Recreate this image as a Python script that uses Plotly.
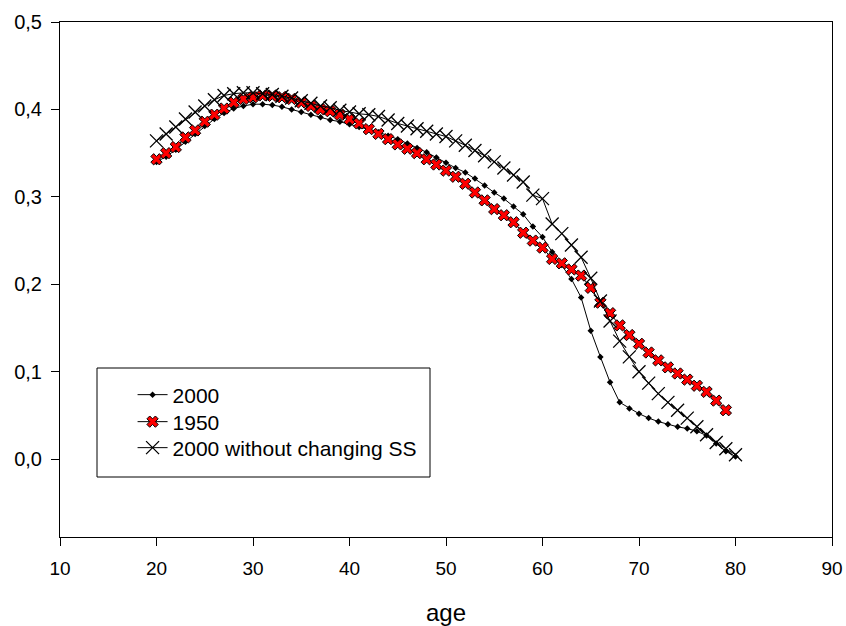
import plotly.graph_objects as go

age_2000 = list(range(20, 81))
val_2000 = [0.340, 0.346, 0.354, 0.363, 0.372, 0.381, 0.389, 0.396, 0.401, 0.404,
            0.406, 0.406, 0.405, 0.403, 0.400, 0.397, 0.394, 0.391, 0.388, 0.386,
            0.383, 0.380, 0.377, 0.374, 0.370, 0.366, 0.361, 0.356, 0.351, 0.345,
            0.339, 0.333, 0.328, 0.321, 0.313, 0.305, 0.298, 0.289, 0.280, 0.266,
            0.254, 0.237, 0.222, 0.206, 0.185, 0.147, 0.117, 0.088, 0.065, 0.058,
            0.052, 0.047, 0.043, 0.040, 0.037, 0.035, 0.032, 0.027, 0.018, 0.009,
            0.003]

age_1950 = list(range(20, 80))
val_1950 = [0.343, 0.350, 0.357, 0.368, 0.376, 0.386, 0.394, 0.401, 0.408, 0.412,
            0.414, 0.416, 0.4155, 0.414, 0.412, 0.408, 0.404, 0.400, 0.398, 0.394,
            0.389, 0.384, 0.3775, 0.372, 0.366, 0.360, 0.355, 0.350, 0.343, 0.337,
            0.330, 0.323, 0.315, 0.305, 0.296, 0.286, 0.279, 0.271, 0.259, 0.250,
            0.242, 0.229, 0.224, 0.217, 0.210, 0.196, 0.179, 0.167, 0.153, 0.142,
            0.132, 0.122, 0.113, 0.105, 0.098, 0.091, 0.084, 0.077, 0.067, 0.056]

age_noss = list(range(20, 81))
val_noss = [0.364, 0.372, 0.380, 0.389, 0.397, 0.404, 0.411, 0.416, 0.418, 0.419,
            0.419, 0.418, 0.417, 0.415, 0.413, 0.410, 0.407, 0.404, 0.402, 0.399,
            0.397, 0.395, 0.394, 0.392, 0.388, 0.384, 0.381, 0.378, 0.375, 0.372,
            0.369, 0.364, 0.359, 0.353, 0.347, 0.340, 0.333, 0.325, 0.317, 0.302,
            0.298, 0.269, 0.258, 0.245, 0.231, 0.207, 0.181, 0.158, 0.135, 0.117,
            0.100, 0.087, 0.075, 0.065, 0.056, 0.047, 0.037, 0.028, 0.019, 0.012,
            0.005]

names = ["2000", "1950", "2000 without changing SS"]
y_ticks = [0.0, 0.1, 0.2, 0.3, 0.4, 0.5]
x_ticks = [10, 20, 30, 40, 50, 60, 70, 80, 90]

FONT = "Liberation Sans, Arial, sans-serif"

fig = go.Figure()
fig.add_trace(go.Scatter(
    x=age_2000, y=val_2000, name=names[0], mode="lines+markers", legend="legend",
    line=dict(color="black", width=1),
    marker=dict(symbol="diamond", size=5, color="black"),
))
fig.add_trace(go.Scatter(
    x=age_1950, y=val_1950, name=names[1], mode="lines+markers", legend="legend2",
    line=dict(color="black", width=1),
    marker=dict(symbol="x", size=10, color="#ff0000", line=dict(color="black", width=1)),
))
fig.add_trace(go.Scatter(
    x=age_noss, y=val_noss, name=names[2], mode="lines+markers", legend="legend3",
    line=dict(color="black", width=1),
    marker=dict(symbol="x-thin", size=13, color="black", line=dict(color="black", width=1.3)),
))

def leg(ypix):
    return dict(
        x=0.094, y=(537 - ypix) / 515, xanchor="left", yanchor="middle",
        bgcolor="rgba(0,0,0,0)", borderwidth=0,
        font=dict(family=FONT, size=21, color="black"),
    )

fig.update_layout(
    width=846, height=626,
    margin=dict(l=60, r=14, t=22, b=89),
    paper_bgcolor="white", plot_bgcolor="white",
    separators=",.",
    font=dict(family=FONT, size=18, color="black"),
    showlegend=True,
    legend=leg(395),
    legend2=leg(422),
    legend3=leg(448),
    shapes=[dict(type="rect", xref="paper", yref="paper",
                 x0=(97 - 60) / 772, x1=(430 - 60) / 772,
                 y0=(537 - 477) / 515, y1=(537 - 368) / 515,
                 line=dict(color="black", width=1), fillcolor="rgba(0,0,0,0)")],
)
fig.update_xaxes(
    range=[10, 90], tickvals=x_ticks, ticks="outside", ticklen=8, tickwidth=1,
    tickcolor="black", showline=True, linecolor="black", linewidth=1, mirror=True,
    showgrid=False, zeroline=False, automargin=False, ticklabelstandoff=6,
    tickfont=dict(family=FONT, size=19),
    title=dict(text="age", font=dict(family=FONT, size=24), standoff=36),
)
fig.update_yaxes(
    range=[-0.089, 0.5], tickvals=y_ticks, tickformat=".1f", ticks="outside",
    ticklen=8, tickwidth=1, tickcolor="black", showline=True, linecolor="black",
    linewidth=1, mirror=True, showgrid=False, zeroline=False, automargin=False,
    ticklabelstandoff=5,
    tickfont=dict(family=FONT, size=20),
)

fig.write_html("out.html")
